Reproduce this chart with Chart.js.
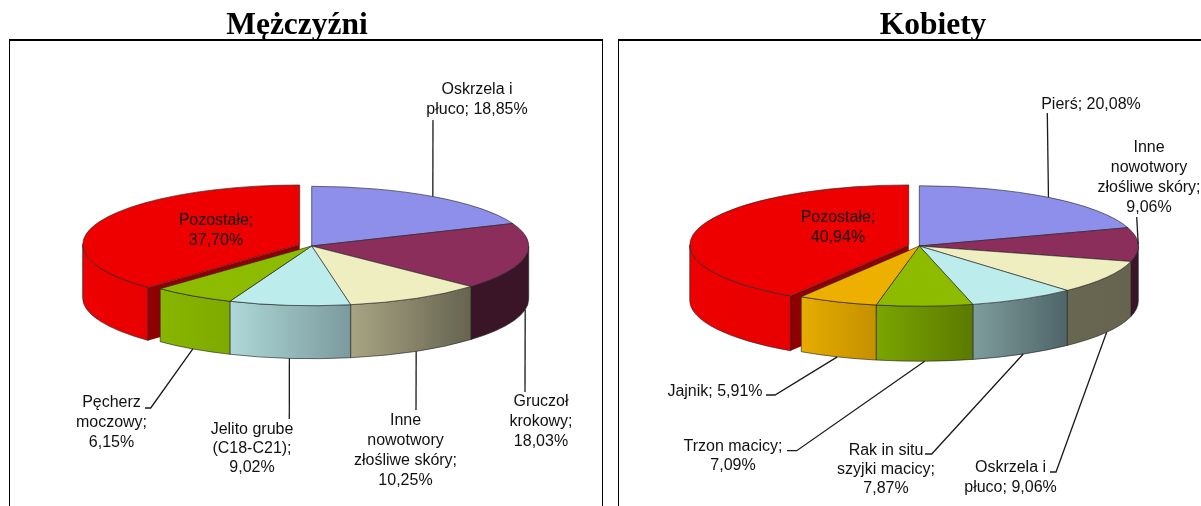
<!DOCTYPE html>
<html><head><meta charset="utf-8">
<script src="https://cdn.jsdelivr.net/npm/chart.js@4"></script>
<style>
html,body{margin:0;padding:0;background:#fff;width:1201px;height:506px;overflow:hidden}
.frame{position:absolute;top:39px;height:520px;border:1.5px solid #000;border-top-width:2px;box-sizing:border-box}
canvas{position:absolute;top:0}
</style></head><body>
<div class="frame" style="left:9px;width:594px"></div>
<div class="frame" style="left:618px;width:640px"></div>
<canvas id="male" width="594" height="506" style="left:0;width:594px;height:506px"></canvas>
<canvas id="female" width="536" height="506" style="left:665px;width:536px;height:506px"></canvas>
<script>
const maleCategories = ['Oskrzela i płuco','Gruczoł krokowy','Inne nowotwory złośliwe skóry','Jelito grube (C18-C21)','Pęcherz moczowy','Pozostałe'];
const maleValues = [18.85,18.03,10.25,9.02,6.15,37.70];
const femaleCategories = ['Pierś','Inne nowotwory złośliwe skóry','Oskrzela i płuco','Rak in situ szyjki macicy','Trzon macicy','Jajnik','Pozostałe'];
const femaleValues = [20.08,9.06,9.06,7.87,7.09,5.91,40.94];

const maleTopColors = ['#8E8EEB','#8B2E5C','#EEEEC0','#BCECEC','#8CBB00','#EE0000'];
const maleSideColors = [['#6a6ab0','#6a6ab0'],['#3A1528','#3A1528'],['#A8A585','#66634F'],['#AED8D7','#7B9A9D'],['#88B500','#7FAA00'],['#EE0000','#E80000']];
const femaleTopColors = ['#8E8EEB','#8B2E5C','#EEEEC0','#BCECEC','#8CBB00','#EEB000','#EE0000'];
const femaleSideColors = [['#6a6ab0','#6a6ab0'],['#3A1528','#3A1528'],['#696750','#66634F'],['#7F9D9D','#4E6468'],['#7AA500','#5B7A00'],['#E6AC00','#C59000'],['#EE0000','#E80000']];
const maleOffsets = [0,0,0,0,0,52];
const femaleOffsets = [0,0,0,0,0,0,44];

const maleLabelLines = [['Oskrzela i','płuco; 18,85%'],['Gruczoł','krokowy;','18,03%'],['Inne','nowotwory','złośliwe skóry;','10,25%'],['Jelito grube','(C18-C21);','9,02%'],['Pęcherz','moczowy;','6,15%'],['Pozostałe;','37,70%']];
const femaleLabelLines = [['Pierś; 20,08%'],['Inne','nowotwory','złośliwe skóry;','9,06%'],['Oskrzela i','płuco; 9,06%'],['Rak in situ','szyjki macicy;','7,87%'],['Trzon macicy;','7,09%'],['Jajnik; 5,91%'],['Pozostałe;','40,94%']];

// label placement on the page: centre x, first-line centre y, line step, leader end points
const maleLabelPlaces = [
 {x:477,y:90,step:20,leader:[[433,120]]},
 {x:541,y:402,step:20,leader:[[525,392]]},
 {x:405.5,y:421,step:20,leader:[[416,410]]},
 {x:252,y:430,step:19,leader:[[289.3,419]]},
 {x:111.5,y:403,step:20,leader:[[150.7,408],[145,408]]},
 {x:216,y:221,step:19.5}
];
const femaleLabelPlaces = [
 {x:1091,y:105,step:20,leader:[[1047.3,113]]},
 {x:1149,y:147.5,step:20,leader:[[1136.7,217]]},
 {x:1010.5,y:468,step:20,leader:[[1056,472],[1050,472]]},
 {x:886,y:450.5,step:19,leader:[[931.7,454],[925,454]]},
 {x:733,y:446.5,step:19.5,leader:[[796.7,450.7],[787,450.7]]},
 {x:715,y:391.5,step:20,leader:[[775,395],[766,395]]},
 {x:838,y:218,step:19.5}
];

const LABEL_FONT = '16px "Liberation Sans"';
const EDGE = 'rgba(35,35,35,0.7)';

const pie3d = {
  id:'pie3d',
  beforeDatasetsDraw(chart, args, o){
    const ctx = chart.ctx, arcs = chart.getDatasetMeta(0).data, v = o.view;
    const cx0 = v.cx - o.left, k = v.squash, d = v.depth;
    const items = arcs.map((arc,i)=>{
      const mid = (arc.startAngle+arc.endAngle)/2, off = (arc.options.offset||0)/4;
      return {i, s:arc.startAngle, e:arc.endAngle, r:arc.outerRadius, off,
        x:cx0+Math.cos(mid)*off, y:v.cy+Math.sin(mid)*off*k, fill:arc.options.backgroundColor};
    });
    items.sort((a,b)=>b.off-a.off);
    ctx.save();
    ctx.lineWidth = 0.9; ctx.strokeStyle = EDGE; ctx.lineJoin='round';
    for(const it of items){
      const {x,y,r,s,e} = it, ry=r*k;
      const a0=Math.max(s,0), a1=Math.min(e,Math.PI);
      if(a1>a0){
        const xa=x+r*Math.cos(a0), xb=x+r*Math.cos(a1);
        const g=ctx.createLinearGradient(Math.min(xa,xb),0,Math.max(xa,xb),0);
        g.addColorStop(0,o.side[it.i][0]); g.addColorStop(1,o.side[it.i][1]);
        ctx.beginPath();
        ctx.ellipse(x,y,r,ry,0,a0,a1);
        ctx.ellipse(x,y+d,r,ry,0,a1,a0,true);
        ctx.closePath();
        ctx.fillStyle=g; ctx.fill(); ctx.stroke();
      }
      if(it.off>0){ // cut face of the pulled-out slice, seen from the front
        const px=x+r*Math.cos(s), py=y+ry*Math.sin(s);
        ctx.beginPath();
        ctx.moveTo(x,y); ctx.lineTo(px,py); ctx.lineTo(px,py+d); ctx.lineTo(x,y+d); ctx.closePath();
        ctx.fillStyle=o.cutColor; ctx.fill();
        ctx.beginPath(); ctx.moveTo(px,py+d); ctx.lineTo(px,py); ctx.stroke();
      }
      ctx.beginPath();
      ctx.moveTo(x,y);
      ctx.ellipse(x,y,r,ry,0,s,e);
      ctx.closePath();
      ctx.fillStyle=it.fill; ctx.fill(); ctx.stroke();
    }
    ctx.restore();
    return false;
  },
  afterDraw(chart, args, o){
    const ctx = chart.ctx, arcs = chart.getDatasetMeta(0).data, v=o.view;
    const cx0 = v.cx - o.left, k=v.squash, d=v.depth;
    ctx.save();
    ctx.font = LABEL_FONT; ctx.textAlign='center'; ctx.textBaseline='middle'; ctx.fillStyle='#111';
    arcs.forEach((arc,i)=>{
      const p=o.places[i], mid=(arc.startAngle+arc.endAngle)/2, r=arc.outerRadius;
      o.lines[i].forEach((t,j)=>ctx.fillText(t,p.x-o.left,p.y+j*p.step));
      if(p.leader){
        const sin=Math.sin(mid);
        ctx.beginPath();
        ctx.moveTo(cx0+r*Math.cos(mid), v.cy+r*k*sin+(sin>0?d:0));
        p.leader.forEach(q=>ctx.lineTo(q[0]-o.left,q[1]));
        ctx.strokeStyle='#1a1a1a'; ctx.lineWidth=1.3; ctx.stroke();
      }
    });
    ctx.restore();
  }
};

function makePie(id, title, cats, vals, tops, offs, side, lines, places, left, view){
  return new Chart(document.getElementById(id),{
    type:'pie',
    plugins:[pie3d],
    data:{labels:cats,datasets:[{data:vals,backgroundColor:tops,offset:offs,borderWidth:0,radius:view.r}]},
    options:{
      responsive:false,animation:false,
      plugins:{
        legend:{display:false},tooltip:{enabled:false},
        title:{display:true,text:title,color:'#000',padding:{top:7,bottom:0},font:{family:'"Liberation Serif"',size:31.5,weight:'bold'}},
        pie3d:{view,left,side,lines,places,cutColor:'#900000'}
      }
    }
  });
}
makePie('male','Mężczyźni',maleCategories,maleValues,maleTopColors,maleOffsets,maleSideColors,maleLabelLines,maleLabelPlaces,0,{cx:311.7,cy:246,r:217,squash:0.275,depth:53});
makePie('female','Kobiety',femaleCategories,femaleValues,femaleTopColors,femaleOffsets,femaleSideColors,femaleLabelLines,femaleLabelPlaces,665,{cx:919.3,cy:246,r:219,squash:0.275,depth:55});
</script>
</body></html>
